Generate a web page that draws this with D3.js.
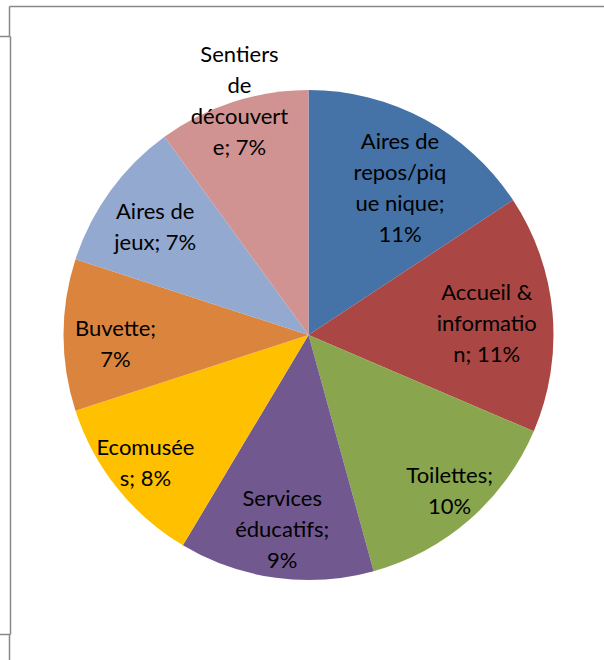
<!DOCTYPE html>
<html><head><meta charset="utf-8">
<script src="https://cdn.jsdelivr.net/npm/d3@7"></script>
<style>html,body{margin:0;padding:0;background:#fff;}svg{display:block;}</style>
</head><body>
<svg id="c" width="604" height="660"></svg>
<script>
const categories = ["Aires de repos/pique nique","Accueil & information","Toilettes","Services éducatifs","Ecomusées","Buvette","Aires de jeux","Sentiers de découverte"];
const values = [11,11,10,9,8,7,7,7];
const labelLines = [
  ["Aires de","repos/piq","ue nique;","11%"],
  ["Accueil &","informatio","n; 11%"],
  ["Toilettes;","10%"],
  ["Services","éducatifs;","9%"],
  ["Ecomusée","s; 8%"],
  ["Buvette;","7%"],
  ["Aires de","jeux; 7%"],
  ["Sentiers","de","découvert","e; 7%"]
];
const colors = ["#4572A7","#AA4643","#89A54E","#71588F","#FFC000","#DB843D","#93A9CF","#D19392"];
// label placement (polar offset within slice, plus small nudges)
const labelRadius = [172,181,210,196,206,193,187,246];
const labelNudgeX = [10,-2,3,0,-2,0,-2,7];
const labelNudgeY = [4,5,-2,0,-1,9,2,0];

const svg = d3.select("#c");
const g0 = svg.append("g").attr("stroke","#888").attr("stroke-width",1.5).attr("fill","none");
g0.append("path").attr("d","M9.5,6.5H604M9.5,6.5V36.5M0,36.5H10.5M10.5,36.5V634.5M0,634.5H10.5M9.5,634.5V660");

const cx = 308.5, cy = 335, R = 245;
const pie = d3.pie().sort(null).value(d => d)(values);
const arc = d3.arc().innerRadius(0).outerRadius(R);
const g = svg.append("g").attr("transform",`translate(${cx},${cy})`);
g.selectAll("path").data(pie).join("path")
  .attr("d",arc).attr("fill",(d,i)=>colors[i]);

const lh = 31;
g.selectAll("text").data(pie).join("text")
  .attr("font-family","Lato, 'Open Sans', sans-serif").attr("font-size",22).attr("fill","#000")
  .attr("text-anchor","middle")
  .each(function(d,i){
    const a = (d.startAngle+d.endAngle)/2;
    const x = Math.sin(a)*labelRadius[i] + labelNudgeX[i], y = -Math.cos(a)*labelRadius[i] + labelNudgeY[i];
    const lines = labelLines[i];
    const t = d3.select(this);
    lines.forEach((l,k)=>{
      t.append("tspan").attr("x",x).attr("y",y + (k-(lines.length-1)/2)*lh).attr("dy","0.35em").text(l);
    });
  });
</script>
</body></html>
